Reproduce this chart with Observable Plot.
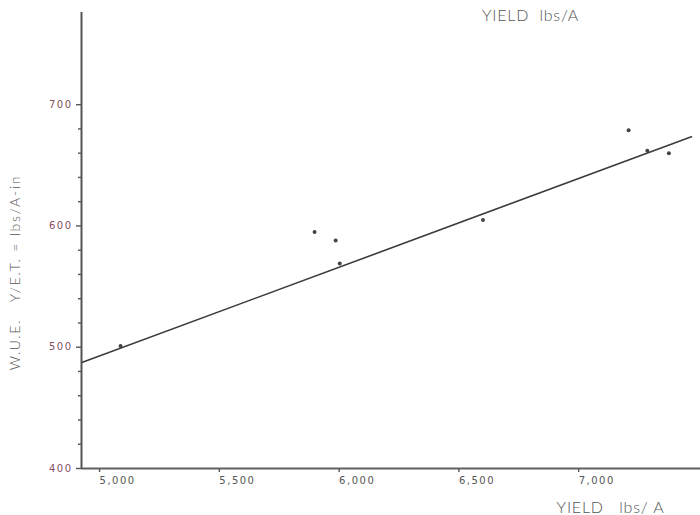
<!DOCTYPE html>
<html>
<head>
<meta charset="utf-8">
<script src="https://cdn.jsdelivr.net/npm/d3@7"></script>
<script src="https://cdn.jsdelivr.net/npm/@observablehq/plot@0.6"></script>
<style>
  html, body { margin: 0; padding: 0; background: #fff; }
  #chart svg { display: block; background: #fff; }
  g[aria-label="x-axis tick label"] text { letter-spacing: 1.5px; }
  g[aria-label="y-axis tick label"] text { letter-spacing: 1.5px; }
  .lbl text { white-space: pre; }
</style>
</head>
<body>
<div id="chart"></div>
<script>
// Yield (lbs/A) against water-use efficiency (lbs/A-in)
const yieldLbs = [5050, 5860, 5948, 5965, 6563, 7171, 7249, 7339];
const wue      = [501, 595, 588, 569, 605, 679, 662, 660];

// Fitted line, end points
const fitYield = [4891, 7433];
const fitWue   = [487.6, 673.5];

// Axis ticks
const xTicks = [5000, 5500, 6000, 6500, 7000];
const xTickLabels = ["5,000", "5,500", "6,000", "6,500", "7,000"];
const yTicks = [400, 500, 600, 700];
const yMinorTicks = [420, 440, 460, 480, 520, 540, 560, 580, 620, 640, 660, 680];

const xDomain = [4887, 7471];
const yDomain = [400, 776];

const points = yieldLbs.map((x, i) => ({x, y: wue[i]}));
const fit = fitYield.map((x, i) => ({x, y: fitWue[i]}));

const labelFont = "Lato, 'DejaVu Sans', sans-serif";
const ink = "#4a4a4a";

const chart = Plot.plot({
  width: 700,
  height: 515,
  marginLeft: 81,
  marginRight: 0,
  marginTop: 12,
  marginBottom: 47,
  style: {background: "#fff", color: ink},
  x: {domain: xDomain, axis: null},
  y: {domain: yDomain, axis: null},
  marks: [
    // minor y ticks
    Plot.axisY({ticks: yMinorTicks, tickSize: 3, stroke: "#555", strokeWidth: 1.4, fill: "none", label: null}),
    // major y ticks with labels
    Plot.axisY({
      ticks: yTicks, tickSize: 5, tickPadding: 4, stroke: "#555", strokeWidth: 1.4, fill: "#87505e",
      fontSize: 10, fontFamily: "'DejaVu Sans', sans-serif", label: null
    }),
    // x ticks with labels
    Plot.axisX({
      ticks: xTicks, tickSize: 4, tickPadding: 4, stroke: "#555", strokeWidth: 1.4, fill: "#555",
      tickFormat: (d) => xTickLabels[xTicks.indexOf(d)],
      textAnchor: "start", dx: -9,
      fontSize: 10, fontFamily: "'DejaVu Sans', sans-serif", label: null
    }),
    // axis lines
    Plot.ruleX([xDomain[0]], {stroke: "#555", strokeWidth: 2}),
    Plot.ruleY([yDomain[0]], {stroke: "#606060", strokeWidth: 2}),
    // fitted line
    Plot.line(fit, {x: "x", y: "y", stroke: "#3c3c3c", strokeWidth: 1.6}),
    // observations
    Plot.dot(points, {x: "x", y: "y", r: 2, fill: "#444", stroke: "none"}),
    // titles
    Plot.text(["YIELD  lbs/A"], {
      frameAnchor: "top-left", dx: 449, dy: 8, lineAnchor: "bottom",
      textAnchor: "middle", fontSize: 16, fontWeight: 300, fontFamily: labelFont,
      fill: "#555", className: "lbl"
    }),
    Plot.text(["YIELD   lbs/ A"], {
      frameAnchor: "bottom-left", dx: 529, dy: 44, lineAnchor: "bottom",
      textAnchor: "middle", fontSize: 16, fontWeight: 300, fontFamily: labelFont,
      fill: "#555", className: "lbl"
    }),
    Plot.text(["W.U.E.   Y/E.T. = lbs/A-in"], {
      frameAnchor: "left", dx: -66, dy: 32, rotate: -90,
      textAnchor: "middle", lineAnchor: "middle", fontSize: 14, fontWeight: 300,
      fontFamily: labelFont, fill: "#555", className: "lbl ylbl"
    })
  ]
});

d3.select(chart).selectAll(".lbl text").style("letter-spacing", "0.8px");
d3.select(chart).selectAll(".ylbl text").style("letter-spacing", "1.8px");
document.getElementById("chart").appendChild(chart);
</script>
</body>
</html>
